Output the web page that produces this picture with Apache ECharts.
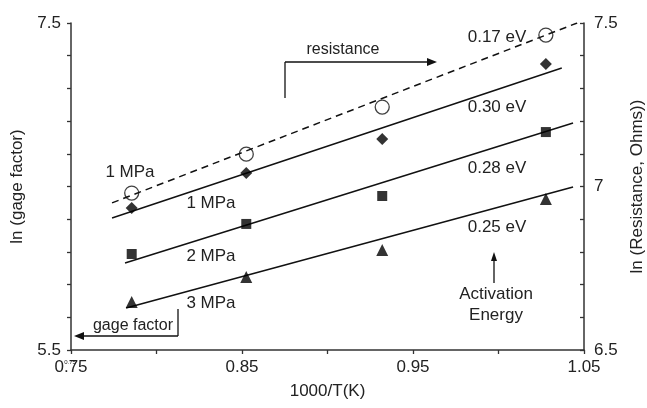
<!DOCTYPE html>
<html>
<head>
<meta charset="utf-8">
<script src="https://cdn.jsdelivr.net/npm/echarts@6/dist/echarts.min.js"></script>
<style>
  html, body { margin: 0; padding: 0; background: #fff; }
  #chart { width: 647px; height: 408px; }
</style>
</head>
<body>
<div id="chart"></div>
<script>
// 1000/T for 700, 800, 900, 1000 C measurements
const invTemp = [0.7855, 0.8525, 0.9320, 1.0277]

// ln(gage factor), left axis
const gage1MPa = [6.368, 6.583, 6.790, 7.249]
const gage2MPa = [6.087, 6.271, 6.442, 6.833]
const gage3MPa = [5.794, 5.947, 6.112, 6.424]
// ln(resistance), right axis
const resist1MPa = [6.980, 7.099, 7.243, 7.463]

// fitted lines, [x, y] endpoints
const fitResist = [[0.774, 6.950], [1.046, 7.500]]
const fit1MPa = [[0.774, 6.307], [1.037, 7.225]]
const fit2MPa = [[0.7816, 6.032], [1.0436, 6.888]]
const fit3MPa = [[0.7822, 5.757], [1.0436, 6.497]]

const FONT = '"Liberation Sans", Arial, sans-serif'
const TXT = '#222'

function pts(xs, ys) {
  return xs.map((x, i) => [x, ys[i]])
}

function fitLine(data, yAxisIndex, dashed) {
  return {
    type: 'line',
    data: data,
    yAxisIndex: yAxisIndex,
    symbol: 'none',
    silent: true,
    animation: false,
    lineStyle: { color: '#111', width: 1.5, type: dashed ? [7, 5] : 'solid' },
    z: 2
  }
}

function markers(data, yAxisIndex, symbol, size, hollow) {
  return {
    type: 'scatter',
    data: data,
    yAxisIndex: yAxisIndex,
    symbol: symbol,
    symbolSize: size,
    animation: false,
    itemStyle: hollow
      ? { color: 'rgba(0,0,0,0)', borderColor: '#111', borderWidth: 1.3 }
      : { color: '#000' },
    z: 3
  }
}

function label(text, x, y, size) {
  return {
    type: 'text', x: x, y: y, z: 10,
    style: { text: text, fill: TXT, font: (size || 17) + 'px ' + FONT, align: 'center', verticalAlign: 'middle' }
  }
}

function seg(x1, y1, x2, y2) {
  return { type: 'line', z: 10, shape: { x1, y1, x2, y2 }, style: { stroke: '#111', lineWidth: 1.3 } }
}

function head(points) {
  return { type: 'polygon', z: 10, shape: { points: points }, style: { fill: '#111' } }
}

const chart = echarts.init(document.getElementById('chart'))

chart.setOption({
  backgroundColor: '#fff',
  animation: false,
  grid: { left: 71, right: 63, top: 23, bottom: 58, outerBoundsMode: 'none' },
  xAxis: {
    type: 'value',
    min: 0.75, max: 1.05, interval: 0.05,
    name: '1000/T(K)',
    nameLocation: 'middle',
    nameGap: 33,
    nameTextStyle: { fontFamily: FONT, fontSize: 17, color: TXT },
    axisLine: { show: true, lineStyle: { color: '#333', width: 1.5 } },
    axisTick: { show: true, length: 4, lineStyle: { color: '#333', width: 1.3 } },
    axisLabel: {
      margin: 9, fontFamily: FONT, fontSize: 17, color: TXT,
      formatter: v => (Math.round(v * 100) % 10 === 5 ? v.toFixed(2) : '')
    },
    splitLine: { show: false }
  },
  yAxis: [
    {
      type: 'value',
      min: 5.5, max: 7.5, interval: 0.2,
      name: 'ln (gage factor)',
      nameLocation: 'middle',
      nameGap: 45,
      nameTextStyle: { fontFamily: FONT, fontSize: 17, color: TXT },
      axisLine: { show: true, lineStyle: { color: '#333', width: 1.5 } },
      axisTick: { show: true, length: 4, lineStyle: { color: '#333', width: 1.3 } },
      axisLabel: {
        margin: 10, fontFamily: FONT, fontSize: 17, color: TXT,
        formatter: v => (Math.abs(v - 5.5) < 1e-6 || Math.abs(v - 7.5) < 1e-6 ? v.toFixed(1) : '')
      },
      splitLine: { show: false }
    },
    {
      type: 'value',
      position: 'right',
      min: 6.5, max: 7.5, interval: 0.1,
      name: 'ln (Resistance, Ohms))',
      nameLocation: 'middle',
      nameGap: 45,
      nameRotate: 90,
      nameTextStyle: { fontFamily: FONT, fontSize: 17, color: TXT },
      axisLine: { show: true, lineStyle: { color: '#333', width: 1.5 } },
      axisTick: { show: true, inside: true, length: 4, lineStyle: { color: '#333', width: 1.3 } },
      axisLabel: {
        margin: 10, fontFamily: FONT, fontSize: 17, color: TXT,
        formatter: v => (Math.round(v * 10) % 5 === 0 ? String(Math.round(v * 10) / 10) : '')
      },
      splitLine: { show: false }
    }
  ],
  series: [
    fitLine(fitResist, 1, true),
    fitLine(fit1MPa, 0, false),
    fitLine(fit2MPa, 0, false),
    fitLine(fit3MPa, 0, false),
    markers(pts(invTemp, resist1MPa), 1, 'circle', 14, true),
    markers(pts(invTemp, gage1MPa), 0, 'diamond', 12, false),
    markers(pts(invTemp, gage2MPa), 0, 'rect', 10, false),
    markers(pts(invTemp, gage3MPa), 0, 'triangle', 12, false)
  ],
  graphic: [
    label('resistance', 343, 50, 16),
    seg(285, 62, 428, 62), seg(285, 62, 285, 98),
    head([[437, 62], [427, 58], [427, 66]]),
    label('0.17 eV', 497, 37),
    label('0.30 eV', 497, 107),
    label('0.28 eV', 497, 168),
    label('0.25 eV', 497, 227),
    label('Activation', 496, 294),
    label('Energy', 496, 315),
    seg(494, 283, 494, 259),
    head([[494, 252], [491, 261], [497, 261]]),
    label('1 MPa', 130, 172),
    label('1 MPa', 211, 203),
    label('2 MPa', 211, 256),
    label('3 MPa', 211, 303),
    label('gage factor', 133, 326, 16),
    seg(178, 309, 178, 336), seg(178, 336, 82, 336),
    head([[74, 336], [84, 332], [84, 340]]),
    label('0.75', 70, 362, 6)
  ]
})
</script>
</body>
</html>
